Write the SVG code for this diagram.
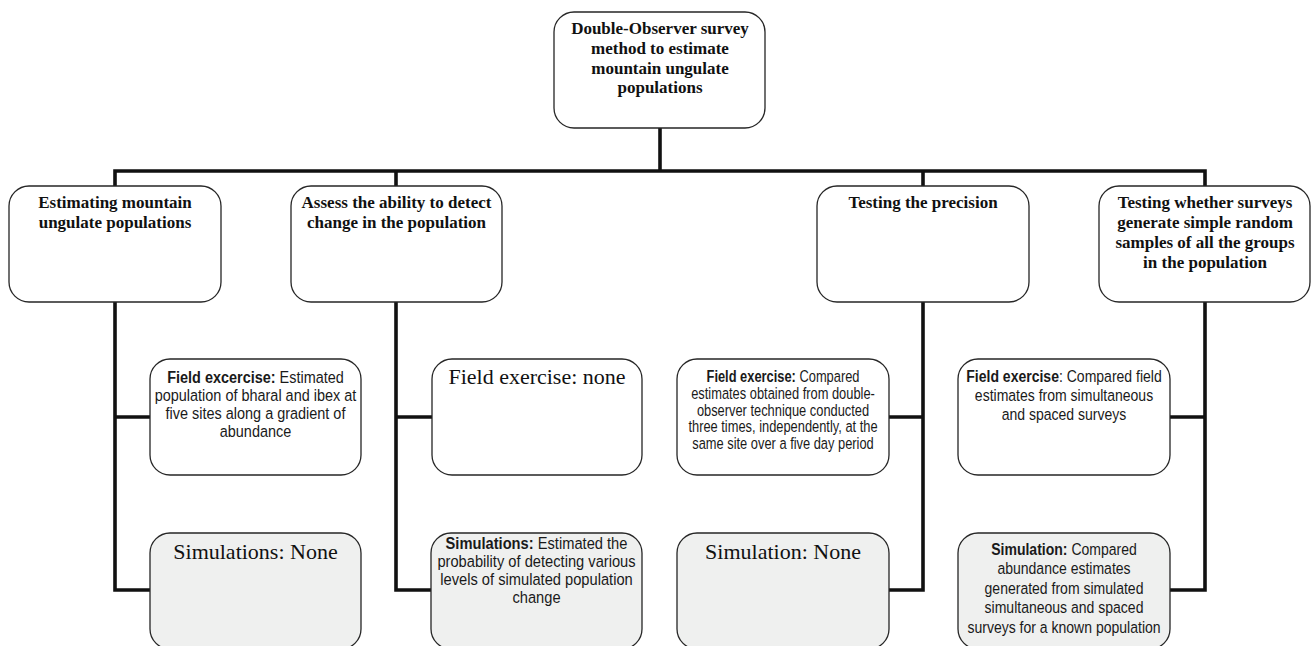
<svg xmlns="http://www.w3.org/2000/svg" width="1311" height="646" viewBox="0 0 1311 646">
<style>
.box{fill:#ffffff;stroke:#262626;stroke-width:1.3}
.sim{fill:#eff0ef;stroke:#262626;stroke-width:1.3}
.conn{fill:none;stroke:#111111;stroke-width:3.6;stroke-linejoin:miter;stroke-linecap:butt}
.hd{font-family:"Liberation Serif","Times New Roman",serif;font-weight:bold;font-size:17px;fill:#111;text-anchor:middle}
.tm{font-family:"Liberation Serif","Times New Roman",serif;font-size:22px;fill:#111;text-anchor:middle}
.ar{font-family:"Liberation Sans",Arial,sans-serif;fill:#1a1a1a;text-anchor:middle}
.b{font-weight:bold}
</style>
<rect width="1311" height="646" fill="#ffffff"/>
<g id="connectors">
<path class="conn" d="M660 128 V171"/>
<path class="conn" d="M115 186 V171 H1205 V186"/>
<path class="conn" d="M396 171 V186"/>
<path class="conn" d="M923 171 V186"/>
<path class="conn" d="M115 302 V590 H150"/>
<path class="conn" d="M115 417 H150"/>
<path class="conn" d="M396 302 V590 H431"/>
<path class="conn" d="M396 417 H432"/>
<path class="conn" d="M923 302 V590 H889"/>
<path class="conn" d="M923 417 H889"/>
<path class="conn" d="M1205 302 V590 H1170"/>
<path class="conn" d="M1205 417 H1170"/>
</g>
<g id="root">
<rect class="box" x="554" y="12" width="211" height="116" rx="20"/>
<text class="hd" x="660" y="34">Double-Observer survey</text>
<text class="hd" x="660" y="54">method to estimate</text>
<text class="hd" x="660" y="73.5">mountain ungulate</text>
<text class="hd" x="660" y="93">populations</text>
</g>
<g id="cat1">
<rect class="box" x="9" y="186" width="212" height="116" rx="20"/>
<text class="hd" x="115" y="208">Estimating mountain</text>
<text class="hd" x="115" y="228">ungulate populations</text>
</g>
<g id="cat2">
<rect class="box" x="291" y="186" width="211" height="116" rx="20"/>
<text class="hd" x="396.5" y="208">Assess the ability to detect</text>
<text class="hd" x="396.5" y="228">change in the population</text>
</g>
<g id="cat3">
<rect class="box" x="817" y="186" width="212" height="116" rx="20"/>
<text class="hd" x="923" y="208">Testing the precision</text>
</g>
<g id="cat4">
<rect class="box" x="1099" y="186" width="211" height="116" rx="20"/>
<text class="hd" x="1205" y="208">Testing whether surveys</text>
<text class="hd" x="1205" y="228">generate simple random</text>
<text class="hd" x="1205" y="248">samples of all the groups</text>
<text class="hd" x="1205" y="268">in the population</text>
</g>
<g id="field1">
<rect class="box" x="150" y="359" width="211" height="116" rx="20"/>
<g transform="translate(255.5 0) scale(0.85 1)" class="ar" font-size="17">
<text x="0" y="383"><tspan class="b">Field excercise:</tspan> Estimated</text>
<text x="0" y="401">population of bharal and ibex at</text>
<text x="0" y="419">five sites along a gradient of</text>
<text x="0" y="437">abundance</text>
</g>
</g>
<g id="field2">
<rect class="box" x="432" y="359" width="210" height="116" rx="20"/>
<text class="tm" x="537" y="384">Field exercise: none</text>
</g>
<g id="field3">
<rect class="box" x="677" y="359" width="212" height="116" rx="20"/>
<g transform="translate(783 0) scale(0.78 1)" class="ar" font-size="16.5">
<text x="0" y="382"><tspan class="b">Field exercise:</tspan> Compared</text>
<text x="0" y="398.8">estimates obtained from double-</text>
<text x="0" y="415.6">observer technique conducted</text>
<text x="0" y="432.4">three times, independently, at the</text>
<text x="0" y="449.2">same site over a five day period</text>
</g>
</g>
<g id="field4">
<rect class="box" x="958" y="359" width="212" height="116" rx="20"/>
<g transform="translate(1064 0) scale(0.85 1)" class="ar" font-size="16.5">
<text x="0" y="382"><tspan class="b">Field exercise</tspan>: Compared field</text>
<text x="0" y="401">estimates from simultaneous</text>
<text x="0" y="420">and spaced surveys</text>
</g>
</g>
<g id="sim1">
<rect class="sim" x="150" y="533" width="211" height="116" rx="20"/>
<text class="tm" x="255.5" y="559">Simulations: None</text>
</g>
<g id="sim2">
<rect class="sim" x="431" y="533" width="211" height="116" rx="20"/>
<g transform="translate(536.5 0) scale(0.89 1)" class="ar" font-size="16.5">
<text x="0" y="549"><tspan class="b">Simulations:</tspan> Estimated the</text>
<text x="0" y="567">probability of detecting various</text>
<text x="0" y="585">levels of simulated population</text>
<text x="0" y="603">change</text>
</g>
</g>
<g id="sim3">
<rect class="sim" x="677" y="533" width="212" height="116" rx="20"/>
<text class="tm" x="783" y="559">Simulation: None</text>
</g>
<g id="sim4">
<rect class="sim" x="958" y="533" width="212" height="116" rx="20"/>
<g transform="translate(1064 0) scale(0.85 1)" class="ar" font-size="16.5">
<text x="0" y="555"><tspan class="b">Simulation:</tspan> Compared</text>
<text x="0" y="574.5">abundance estimates</text>
<text x="0" y="594">generated from simulated</text>
<text x="0" y="613.5">simultaneous and spaced</text>
<text x="0" y="633">surveys for a known population</text>
</g>
</g>
</svg>
